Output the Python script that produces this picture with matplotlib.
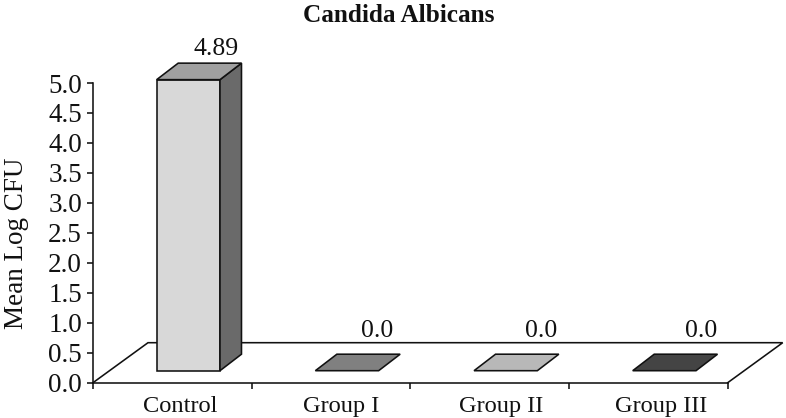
import matplotlib
matplotlib.use("Agg")
import matplotlib.pyplot as plt
from matplotlib.patches import Polygon

plt.rcParams['font.family'] = ['Liberation Serif', 'DejaVu Serif']

categories = ["Control", "Group I", "Group II", "Group III"]
values = [4.89, 0.0, 0.0, 0.0]
value_labels = ["4.89", "0.0", "0.0", "0.0"]
yticks = [0.0, 0.5, 1.0, 1.5, 2.0, 2.5, 3.0, 3.5, 4.0, 4.5, 5.0]
title = "Candida Albicans"
ylabel = "Mean Log CFU"

W, H = 786, 418
fig = plt.figure(figsize=(W / 100, H / 100), dpi=100)
L, R, T, B = 93.0, 727.7, 83.0, 382.7
ax = fig.add_axes([L / W, 1 - B / H, (R - L) / W, (B - T) / H])
ax.set_xlim(0, 4)
ax.set_ylim(0, 5)
sx = (R - L) / 4          # px per category
sy = (B - T) / 5          # px per value unit


def px(dx_px, dy_px):
    return dx_px / sx, dy_px / sy


LW = 1.15
INK = "#111111"

# floor
fdx, fdy = px(55, 40)
ax.plot([0, fdx, 4 + fdx, 4], [0, fdy, fdy, 0], color=INK, lw=LW, clip_on=False, zorder=1, solid_joinstyle="miter")

# bars (oblique projection; the projected height is slightly foreshortened)
front_colors = ["#d8d8d8", "#808080", "#b8b8b8", "#444444"]
top_colors = ["#a0a0a0", "#808080", "#b8b8b8", "#444444"]
side_colors = ["#6a6a6a", "#666666", "#909090", "#333333"]
bw = 63.3 / sx
ox, oy = px(16.0, 12.0)
ddx, ddy = px(21.5, 16.5)
foreshorten = 0.993
for i, v in enumerate(values):
    x0 = i + 0.5 - bw / 2 + ox
    x1 = x0 + bw
    y0 = oy
    y1 = oy + v * foreshorten
    kw = dict(edgecolor=INK, lw=LW, clip_on=False, zorder=3, joinstyle="miter")
    if v > 0:
        ax.add_patch(Polygon([(x0, y0), (x1, y0), (x1, y1), (x0, y1)], facecolor=front_colors[i], **kw))
        ax.add_patch(Polygon([(x1, y0), (x1 + ddx, y0 + ddy), (x1 + ddx, y1 + ddy), (x1, y1)], facecolor=side_colors[i], **kw))
    ax.add_patch(Polygon([(x0, y1), (x1, y1), (x1 + ddx, y1 + ddy), (x0 + ddx, y1 + ddy)], facecolor=top_colors[i], **kw))

# value labels
label_dx = [28, 30.5, 35.5, 36.5]
label_dy = [24.7, 33.7, 33.7, 33.7]
for i, (v, s) in enumerate(zip(values, value_labels)):
    fc = i + 0.5 + ox
    ax.annotate(s, xy=(fc, oy + v * foreshorten), xytext=(label_dx[i] * 0.72, label_dy[i] * 0.72),
                textcoords="offset points", ha="center", va="baseline",
                fontsize=18.5, color="#111111", annotation_clip=False)

# axes
for s in ("top", "right"):
    ax.spines[s].set_visible(False)
for s in ("left", "bottom"):
    ax.spines[s].set_linewidth(LW)
    ax.spines[s].set_color(INK)
ax.patch.set_visible(False)
ax.set_yticks(yticks)
ax.set_yticklabels([f"{t:.1f}" for t in yticks], fontsize=19.5, color="#111111")
ax.set_xticks(range(5))
ax.set_xticklabels([])
ax.tick_params(axis="y", length=4.5, width=LW, pad=3.5, color=INK)
ax.tick_params(axis="x", length=4.5, width=LW, color=INK)
cat_dx = [8, 10, 11, 13]
for i, c in enumerate(categories):
    ax.annotate(c, xy=(i + 0.5, 0), xytext=(cat_dx[i] * 0.72, -(411.7 - B) * 0.72), textcoords="offset points",
                ha="center", va="baseline", fontsize=17.6, color="#111111", annotation_clip=False)

fig.text(399 / W, 1 - 22 / H, title, ha="center", va="baseline", fontsize=18.2, fontweight="bold", color="#111111")
fig.text(16.5 / W, 1 - 243 / H, ylabel, rotation=90, ha="center", va="center", fontsize=19.5, color="#111111")

fig.savefig("out.png", dpi=100)
